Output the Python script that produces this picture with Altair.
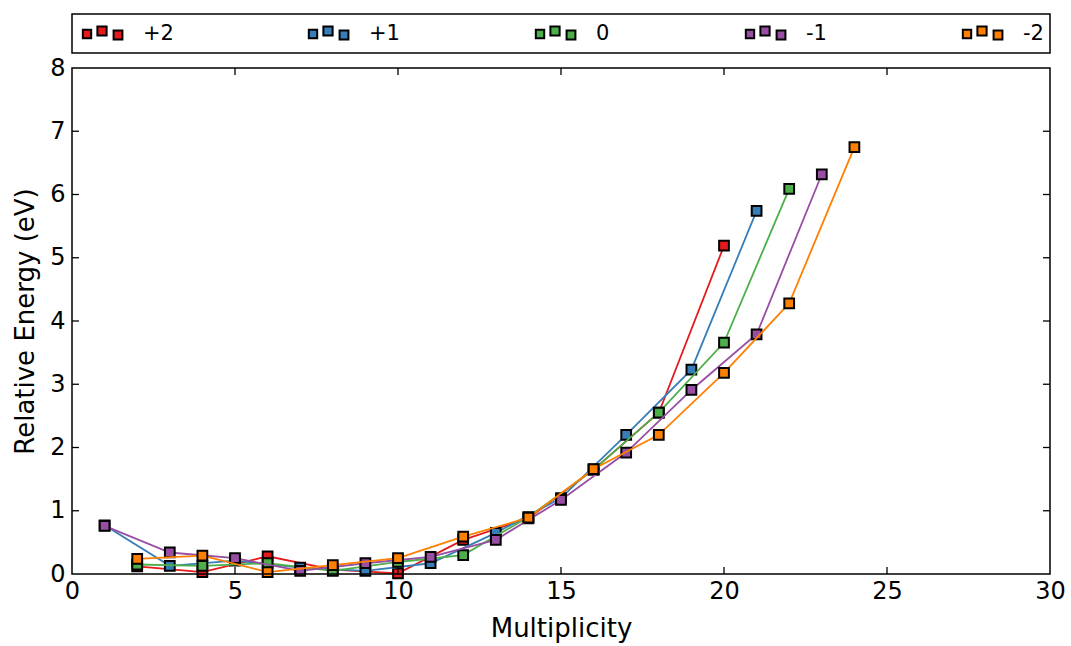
import altair as alt
import pandas as pd

# ---- data ----
series_names = ["+2", "+1", "0", "-1", "-2"]
series_colors = ["#e41a1c", "#377eb8", "#4daf4a", "#984ea3", "#ff7f00"]

mult_p2 = [2, 4, 6, 8, 10, 12, 14, 16, 18, 20]
e_p2 = [0.12, 0.03, 0.28, 0.07, 0.01, 0.54, 0.88, 1.65, 2.55, 5.19]

mult_p1 = [1, 3, 5, 7, 9, 11, 13, 15, 17, 19, 21]
e_p1 = [0.77, 0.13, 0.21, 0.10, 0.05, 0.17, 0.65, 1.20, 2.20, 3.23, 5.74]

mult_0 = [2, 4, 6, 8, 10, 12, 14, 16, 18, 20, 22]
e_0 = [0.15, 0.13, 0.17, 0.05, 0.19, 0.30, 0.90, 1.65, 2.55, 3.66, 6.09]

mult_m1 = [1, 3, 5, 7, 9, 11, 13, 15, 17, 19, 21, 23]
e_m1 = [0.76, 0.34, 0.25, 0.05, 0.17, 0.27, 0.54, 1.17, 1.92, 2.91, 3.79, 6.32]

mult_m2 = [2, 4, 6, 8, 10, 12, 14, 16, 18, 20, 22, 24]
e_m2 = [0.24, 0.29, 0.03, 0.14, 0.25, 0.59, 0.89, 1.66, 2.20, 3.18, 4.28, 6.75]

x_ticks = [0, 5, 10, 15, 20, 25, 30]
y_ticks = [0, 1, 2, 3, 4, 5, 6, 7, 8]

# ---- layout ----
W, H = 978, 506
FONT = "DejaVu Sans"
TICK = 7

mults = [mult_p2, mult_p1, mult_0, mult_m1, mult_m2]
energies = [e_p2, e_p1, e_0, e_m1, e_m2]

xs = alt.Scale(domain=[0, 30], nice=False, zero=False)
ys = alt.Scale(domain=[0, 8], nice=False, zero=False)

layers = []

# axes (labels/titles only; ticks drawn inward as rules)
base_axes = alt.Chart(pd.DataFrame({"x": [0], "y": [0]})).mark_point(opacity=0).encode(
    x=alt.X("x:Q", scale=xs, title="Multiplicity",
            axis=alt.Axis(values=x_ticks, ticks=False, domain=False, grid=False,
                          labelFlush=False, labelOverlap=False,
                          labelFont=FONT, labelFontSize=24, labelColor="black",
                          labelPadding=5, titleFont=FONT, titleFontSize=26,
                          titleFontWeight="normal", titleColor="black", titlePadding=12,
                          format="d")),
    y=alt.Y("y:Q", scale=ys, title="Relative Energy (eV)",
            axis=alt.Axis(values=y_ticks, ticks=False, domain=False, grid=False,
                          labelFlush=False, labelOverlap=False,
                          labelFont=FONT, labelFontSize=24, labelColor="black",
                          labelPadding=7, titleFont=FONT, titleFontSize=26,
                          titleFontWeight="normal", titleColor="black", titlePadding=11,
                          format="d")),
)
layers.append(base_axes)

# series: line then markers, in order
for name, color, mx, ev in zip(series_names, series_colors, mults, energies):
    df = pd.DataFrame({"m": mx, "e": ev, "s": name})
    line = alt.Chart(df).mark_line(color=color, strokeWidth=1.8, clip=False).encode(
        x=alt.X("m:Q", scale=xs), y=alt.Y("e:Q", scale=ys))
    pts = alt.Chart(df).mark_square(size=95, filled=True, color=color, stroke="black",
                                    strokeWidth=2, opacity=1, clip=False).encode(
        x=alt.X("m:Q", scale=xs), y=alt.Y("e:Q", scale=ys))
    layers += [line, pts]

# inward ticks on all four sides
xt = pd.DataFrame({"v": x_ticks[1:-1]})
yt = pd.DataFrame({"v": y_ticks[1:-1]})
layers.append(alt.Chart(xt).mark_rule(color="black", strokeWidth=1.3).encode(
    x=alt.X("v:Q", scale=xs), y=alt.value(H), y2=alt.value(H - TICK)))
layers.append(alt.Chart(xt).mark_rule(color="black", strokeWidth=1.3).encode(
    x=alt.X("v:Q", scale=xs), y=alt.value(0), y2=alt.value(TICK)))
layers.append(alt.Chart(yt).mark_rule(color="black", strokeWidth=1.3).encode(
    y=alt.Y("v:Q", scale=ys), x=alt.value(0), x2=alt.value(TICK)))
layers.append(alt.Chart(yt).mark_rule(color="black", strokeWidth=1.3).encode(
    y=alt.Y("v:Q", scale=ys), x=alt.value(W), x2=alt.value(W - TICK)))

# plot frame
layers.append(alt.Chart(pd.DataFrame({"a": [0]})).mark_rect(
    fill=None, filled=False, stroke="black", strokeWidth=1.5, clip=False).encode(
    x=alt.value(0), x2=alt.value(W), y=alt.value(0), y2=alt.value(H)))

# legend box above the plot
layers.append(alt.Chart(pd.DataFrame({"a": [0]})).mark_rect(
    fill="white", stroke="black", strokeWidth=1.5, clip=False).encode(
    x=alt.value(0), x2=alt.value(W), y=alt.value(-54), y2=alt.value(-15)))

leg_x0 = [15, 241, 468, 678, 895]
sq_dx = [0, 15, 31]
sq_dy = [-34, -37, -33]
sq_size = [70, 85, 78]
leg_rows = []
for i, (name, color) in enumerate(zip(series_names, series_colors)):
    for k in range(3):
        leg_rows.append({"s": name, "c": color, "px": leg_x0[i] + sq_dx[k],
                         "py": sq_dy[k], "sz": sq_size[k]})
leg_df = pd.DataFrame(leg_rows)
layers.append(alt.Chart(leg_df).mark_square(filled=True, stroke="black", strokeWidth=2,
                                            opacity=1, clip=False).encode(
    x=alt.X("px:Q", scale=None), y=alt.Y("py:Q", scale=None),
    size=alt.Size("sz:Q", scale=None, legend=None),
    fill=alt.Fill("c:N", scale=None, legend=None)))
lab_df = pd.DataFrame({"s": series_names,
                       "px": [x + 56 for x in leg_x0],
                       "py": [-34] * 5})
layers.append(alt.Chart(lab_df).mark_text(align="left", baseline="middle", font=FONT,
                                          fontSize=21, color="black", clip=False).encode(
    x=alt.X("px:Q", scale=None), y=alt.Y("py:Q", scale=None), text="s:N"))

chart = alt.layer(*layers).properties(
    width=W, height=H,
    background="white",
    autosize=alt.AutoSizeParams(type="none"),
    padding={"left": 72, "top": 68, "right": 21, "bottom": 72},
).configure_view(stroke=None)

chart.save("out.html", embed_options={"renderer": "svg", "actions": False})
